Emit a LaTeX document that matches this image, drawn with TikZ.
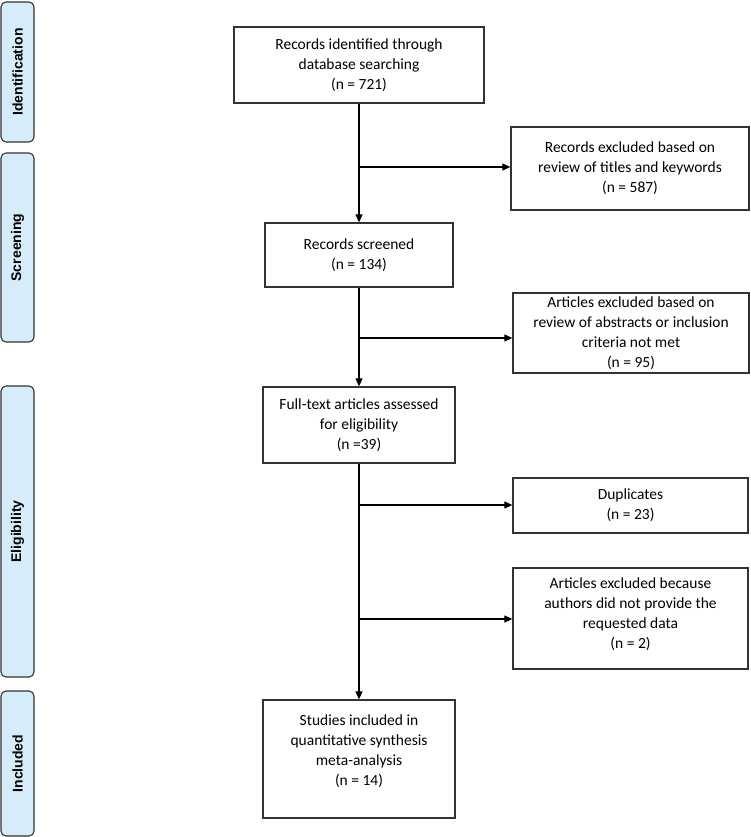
\documentclass[tikz,border=0pt]{standalone}
\usepackage{fontspec}
\setmainfont{Carlito}
\newfontfamily\sidefont{Liberation Sans}
\usetikzlibrary{arrows.meta,positioning}
\definecolor{sidefill}{HTML}{D5ECFB}
\definecolor{edge}{HTML}{333333}
\begin{document}
\begin{tikzpicture}[x=1pt,y=-1pt,
  box/.style={draw=edge,line width=1.3pt,fill=white,align=center,inner sep=2pt,
    font=\fontsize{15.5}{20}\selectfont},
  side/.style={draw=edge,line width=1.1pt,fill=sidefill,rounded corners=5pt,
    minimum width=33pt},
  sidelabel/.style={rotate=90,font=\sidefont\bfseries\fontsize{14}{16}\selectfont},
  flow/.style={draw=black,line width=1.1pt,-{Triangle[length=8pt,width=7pt]}},
  plain/.style={draw=black,line width=1.1pt}]
\useasboundingbox (0,0) rectangle (751,837);
% side bars
\node[side,minimum height=140pt] (sid) at (17.5,72) {};
\node[sidelabel] (lid) at (sid.center) {Identification};
\node[side,minimum height=189pt] (ssc) at (17.5,247.5) {};
\node[sidelabel] (lsc) at (ssc.center) {Screening};
\node[side,minimum height=291pt] (sel) at (17.5,531.5) {};
\node[sidelabel] (lel) at (sel.center) {Eligibility};
\node[side,minimum height=145pt] (sin) at (17.5,763.5) {};
\node[sidelabel] (lin) at (sin.center) {Included};
% main boxes
\node[box,minimum width=250pt,minimum height=76pt] (b1) at (359,65)
  {Records identified through\\database searching\\(n = 721)};
\node[box,minimum width=188pt,minimum height=64pt] (rs) at (359,255)
  {Records screened\\(n = 134)};
\node[box,minimum width=192pt,minimum height=76pt] (ft) at (359,425)
  {Full-text articles assessed\\for eligibility\\(n =39)};
\node[box,minimum width=192pt,minimum height=118pt] (st) at (359,759)
  {Studies included in\\quantitative synthesis\\meta-analysis\\(n = 14)\\[-2pt]};
% exclusion boxes
\node[box,minimum width=238pt,minimum height=83pt] (e1) at (630,168.5)
  {Records excluded based on\\review of titles and keywords\\(n = 587)};
\node[box,minimum width=236pt,minimum height=80pt] (e2) at (631,333)
  {Articles excluded based on\\review of abstracts or inclusion\\criteria not met\\(n = 95)};
\node[box,minimum width=235pt,minimum height=55pt] (dup) at (630.5,505.5)
  {Duplicates\\(n = 23)};
\node[box,minimum width=235pt,minimum height=101pt] (e4) at (630.5,618.5)
  {Articles excluded because\\authors did not provide the\\requested data\\(n = 2)\\[-10pt]};
% branch points
\coordinate (p1) at (359,167);
\coordinate (p2) at (359,338);
\coordinate (p3) at (359,505);
\coordinate (p4) at (359,619);
% connectors
\draw[flow] (b1.south) -- (rs.north);
\draw[flow] (rs.south) -- (ft.north);
\draw[flow] (ft.south) -- (st.north);
\draw[flow] (p1) -- (p1 -| e1.west);
\draw[flow] (p2) -- (p2 -| e2.west);
\draw[flow] (p3) -- (p3 -| dup.west);
\draw[flow] (p4) -- (p4 -| e4.west);
\end{tikzpicture}
\end{document}
